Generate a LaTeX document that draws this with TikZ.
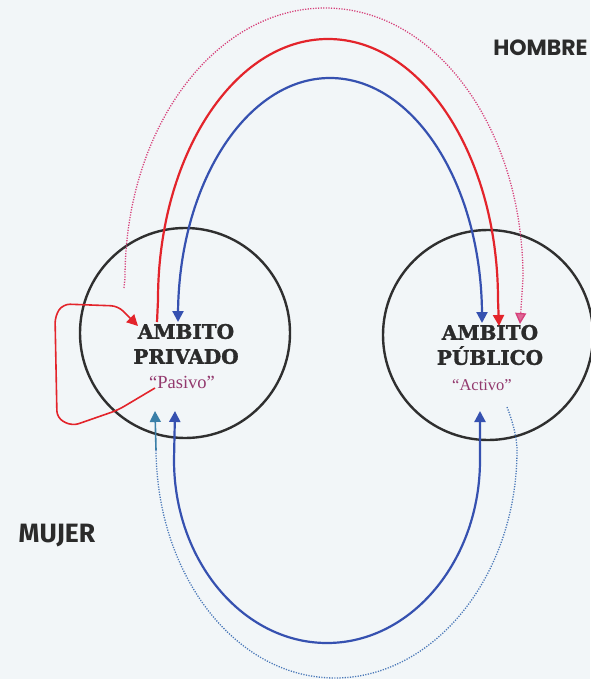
\documentclass[tikz,border=0pt]{standalone}
\usepackage{fontspec}
\setmainfont{Liberation Serif}
\newfontfamily\slabfont{DejaVu Serif}[BoldFeatures={FakeBold=1.6}]
\newfontfamily\geofont{Poppins}
\newfontfamily\humfont{Fira Sans}
\usetikzlibrary{arrows.meta}
\definecolor{fondo}{HTML}{F2F6F8}
\definecolor{rojo}{HTML}{E3242B}
\definecolor{azul}{HTML}{3651B0}
\definecolor{rosa}{HTML}{D6407A}
\definecolor{azulp}{HTML}{4A78B8}
\definecolor{turq}{HTML}{3A7FA8}
\definecolor{circ}{HTML}{2F2F2F}
\definecolor{tinta}{HTML}{2B2B2B}
\definecolor{morado}{HTML}{93396E}
\begin{document}
\begin{tikzpicture}[x=1pt, y=-1pt, line width=2.2pt,
    ambito/.style={circle, draw=circ, line width=2.4pt, minimum size=210pt, inner sep=0pt},
    titulo/.style={font=\slabfont\bfseries\fontsize{20}{25}\selectfont, text=tinta, align=center},
    rol/.style={font=\fontsize{16.5}{18}\selectfont, text=morado},
    ar/.style={-{Triangle[width=11pt,length=11pt]}},
    arr/.style={{Triangle[width=11pt,length=11pt]}-{Triangle[width=11pt,length=11pt]}},
    punteado/.style={line width=1.3pt, dash pattern=on 1.2pt off 1.4pt}]
  \fill[fondo] (0,0) rectangle (590,679);
  \useasboundingbox (0,0) rectangle (590,679);

  % circles and labels
  \node[ambito] (cpriv) at (185,333) {};
  \node[ambito] (cpub) at (488,335) {};
  \node[titulo] (privado) at (186,344) {AMBITO\\PRIVADO};
  \node[titulo] (publico) at (490,345) {AMBITO\\PÚBLICO};
  \node[rol, font=\fontsize{18.5}{20}\selectfont] (pasivo) at (182,382) {“Pasivo”};
  \node[rol] (activo) at (482,385) {“Activo”};
  \node[font=\geofont\bfseries\fontsize{22}{24}\selectfont, text=tinta, anchor=east] (hombre) at (592,48) {HOMBRE};
  \node[font=\humfont\bfseries\fontsize{26.5}{28}\selectfont, text=tinta] (mujer) at (57,536) {MUJER};

  % ends of the connectors
  \coordinate (rosaA) at (124,288);
  \coordinate (rosaB) at (520,324);
  \coordinate (rojoA) at (157,322);
  \coordinate (rojoB) at (499,326);
  \coordinate (azulA) at (178,322);
  \coordinate (azulB) at (482,323);
  \coordinate (bajoA) at (175,411);
  \coordinate (bajoB) at (480,411);
  \coordinate (puntA) at (507,407);
  \coordinate (puntC) at (156,450);
  \coordinate (puntD) at (155,411);
  \coordinate (bucleA) at (155,388);
  \coordinate (bucleB) at (138,326);

  % upper arches
  \draw[punteado, rosa, -{Triangle[width=11pt,length=11pt, fill=rosa!80]}]
    (rosaA) -- (125,278) .. controls (125,129) and (214,8) .. (325,8)
    .. controls (436,8) and (523,129) .. (523,278) -- (rosaB);
  \draw[rojo, ar] (rojoA) -- (158,300) .. controls (158,156) and (234,39) .. (328,39)
    .. controls (422,39) and (498,156) .. (498,300) -- (rojoB);
  \draw[azul, arr] (azulA) -- (178,316) .. controls (178,185) and (246,78) .. (330,78)
    .. controls (414,78) and (482,185) .. (482,316) -- (azulB);

  % lower arches
  \draw[azul, arr] (bajoA) -- (174,460) .. controls (174,561) and (243,643) .. (327,643)
    .. controls (411,643) and (480,561) .. (480,460) -- (bajoB);
  \draw[punteado, azulp] (puntA) .. controls (514,425) and (517,440) .. (517,450)
    .. controls (517,576) and (434,678) .. (335,678)
    .. controls (236,678) and (157,576) .. (puntC);
  \draw[turq, line width=1.6pt, ar] (puntC) -- (puntD);

  % loop on the private side
  \draw[rojo, line width=1.6pt, rounded corners=7pt, ar] (bucleA) -- (118,410) -- (72,426)
    -- (57,418) -- (55,316) -- (63,304) -- (118,306) -- (bucleB);
\end{tikzpicture}
\end{document}
